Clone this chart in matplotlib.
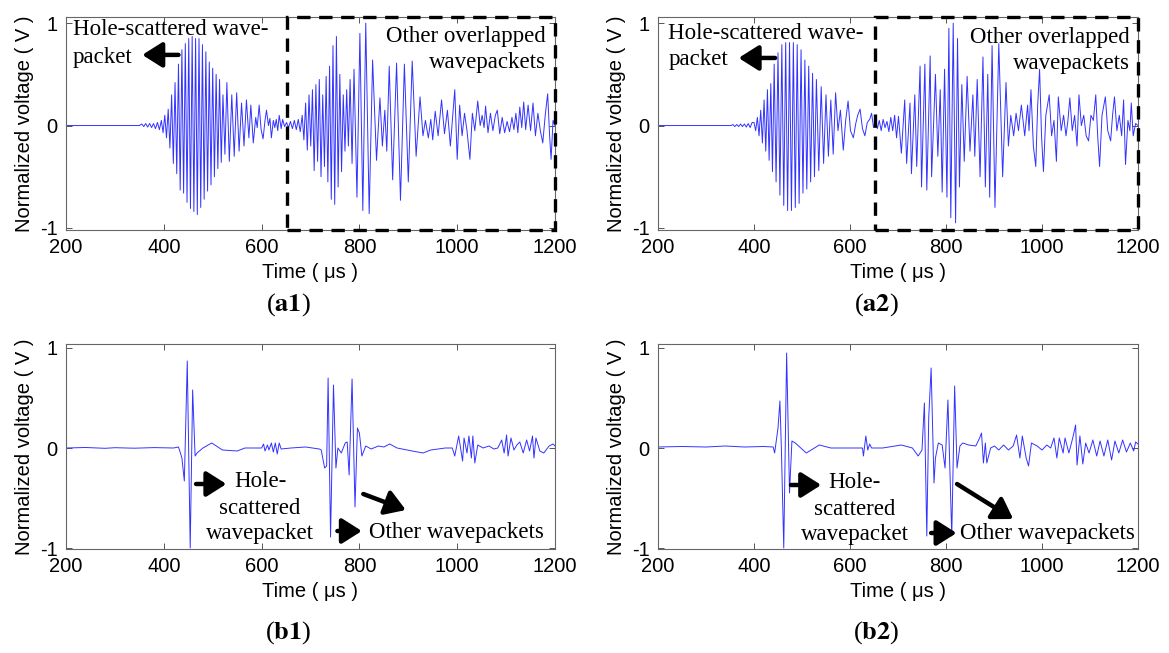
import matplotlib
matplotlib.use("Agg")
import matplotlib.pyplot as plt
from matplotlib.patches import Rectangle
import matplotlib.transforms as mtransforms

plt.rcParams['mathtext.fontset'] = 'stix'

# ---------------- data (extrema) ----------------
a1_t = [200, 350, 355, 359, 363, 367, 371, 375, 379, 383, 387, 391, 395,
        398.5, 402, 405.5, 409, 412.5, 416, 419.5, 423, 426.5, 430, 433.5, 437, 440.5, 444, 447.5,
        451, 454.5, 458, 461.5, 465, 468.5, 472, 475.5, 479, 482.5, 486, 489.5, 493, 496.5, 500,
        503.5, 507, 510.5, 514, 517.5, 521, 525, 529, 534, 539, 544, 549, 554, 559, 564, 569, 574,
        578, 583, 588, 591, 595, 599, 603, 607, 610, 614, 617, 620, 624, 627, 630, 633, 636, 640,
        643, 647, 651, 655, 659, 663, 667, 671, 675, 679, 683, 686.5, 690, 693.5, 697, 700.5, 704,
        707.5, 711, 714.5, 718, 721.5, 725, 728.5, 732, 735.5, 739, 742.5, 746, 749.5, 753, 756.5,
        760, 763.5, 767, 770.5, 774, 777.5, 781, 785, 789, 795, 801, 807, 813, 820, 827, 835, 842,
        847, 852, 856, 861, 868, 876, 884, 892, 900, 908, 916, 924, 930, 935, 941, 946, 950, 955,
        961, 968, 974, 980, 986, 991, 995, 1000, 1005, 1010, 1015, 1020, 1026, 1031, 1036, 1042,
        1047, 1051, 1055, 1058, 1063, 1068, 1073, 1078, 1082, 1087, 1092, 1097, 1102, 1107, 1112,
        1116, 1120, 1124, 1128, 1132, 1136, 1140, 1145, 1150, 1155, 1160, 1165, 1170, 1175, 1180,
        1185, 1189, 1192, 1196, 1200]
a1_v = [0, 0, 0.015, -0.01, 0.02, -0.015, 0.02, -0.02, 0.02, -0.03, 0.03, -0.04, 0.05,
        -0.07, 0.1, -0.12, 0.16, -0.22, 0.3, -0.37, 0.42, -0.47, 0.6, -0.63, 0.74, -0.66, 0.8, -0.75,
        0.85, -0.81, 0.87, -0.84, 0.85, -0.87, 0.85, -0.8, 0.79, -0.72, 0.72, -0.64, 0.62, -0.58, 0.56,
        -0.5, 0.5, -0.42, 0.45, -0.36, 0.3, -0.28, 0.42, -0.35, 0.3, -0.3, 0.32, -0.25, 0.22, -0.2, 0.25, -0.12,
        0.2, -0.17, 0.08, -0.02, 0.2, -0.04, -0.13, 0.05, 0.15, 0.0, 0.07, -0.12, 0.05, -0.02, 0.06, -0.05, 0.1, -0.03,
        0.06, -0.01, 0.03, -0.02, 0.04, -0.03, 0.05, -0.04, 0.06, -0.06, 0.1, -0.14, 0.22, -0.24, 0.3, -0.2, 0.35,
        -0.44, 0.4, -0.35, 0.45, -0.5, 0.3, -0.4, 0.48, -0.55, 0.58, -0.72, 0.78, -0.77, 0.87, -0.6,
        0.5, -0.45, 0.3, -0.25, 0.35, -0.2, 0.45, -0.37, 0.55, -0.7, 0.9, -0.83, 1.0, -0.86, 0.64, -0.34, 0.27,
        -0.2, 0.15, -0.25, 0.58, -0.53, 0.61, -0.73, 0.6, -0.55, 0.63, -0.3, 0.28, -0.1, 0.05, -0.12, 0.06, -0.14, 0.14,
        -0.1, 0.25, -0.08, 0.15, -0.2, 0.1, 0.35, -0.33, 0.2, -0.1, 0.12, -0.05, -0.33, 0.12, -0.05, 0.24,
        0.0, 0.1, -0.02, 0.19, -0.07, 0.12, -0.05, 0.1, 0.15, -0.08, 0.08, -0.07, 0.04, -0.06, 0.08,
        -0.04, 0.12, -0.07, 0.18, -0.02, 0.23, -0.04, 0.2, -0.05, 0.22, -0.1, 0.12, -0.05, -0.17, 0.1,
        0.31, -0.1, -0.33, 0.05, 0.0]

a2_t = [200, 352, 356, 360, 364, 368, 372, 376, 380, 384, 388, 392, 396,
        400, 403.5, 407, 410.5, 414, 417.5, 421, 424.5, 428, 431.5, 435, 438.5, 442, 446, 450, 454,
        458, 462, 466, 470, 474, 478, 482, 486, 490, 494, 498, 502, 506, 510, 514, 518, 522, 526, 530,
        535, 540, 545, 550, 555, 560, 565, 570, 575, 580, 586, 591, 596, 601, 607, 612, 616, 621, 626,
        631, 636, 641, 645, 649, 653, 657, 661, 665, 669, 673, 677, 681, 685, 689, 693, 697, 701, 707,
        714, 718, 725, 728, 735, 739, 746, 749, 756, 760, 767, 770, 778, 783, 788, 792, 797, 802, 806,
        810, 815, 820, 824, 828, 833, 838, 844, 850, 856, 860, 865, 871, 877, 882, 887, 891, 896, 902,
        910, 918, 925, 930, 935, 941, 946, 951, 957, 964, 970, 973, 977, 982, 987, 991, 995, 999, 1003,
        1008, 1015, 1020, 1025, 1030, 1034, 1040, 1045, 1050, 1054, 1058, 1063, 1068, 1073, 1077, 1082,
        1087, 1092, 1097, 1102, 1107, 1112, 1116, 1120, 1125, 1132, 1137, 1143, 1147, 1151, 1156, 1161,
        1166, 1170, 1174, 1179, 1183, 1186, 1190, 1195, 1200]
a2_v = [0, 0, 0.01, -0.01, 0.01, -0.01, 0.015, -0.01, 0.015, -0.015, 0.02, -0.02, 0.03,
        0.03, -0.05, 0.08, -0.1, 0.15, -0.17, 0.25, -0.25, 0.35, -0.34, 0.41, -0.45, 0.6, -0.55, 0.71, -0.68,
        0.79, -0.78, 0.81, -0.83, 0.81, -0.83, 0.81, -0.8, 0.79, -0.76, 0.74, -0.66, 0.64, -0.62, 0.58, -0.55, 0.51, -0.5, 0.45,
        -0.44, 0.38, -0.37, 0.3, -0.3, 0.25, -0.28, 0.32, -0.05, 0.15, -0.24, 0.05, 0.24, -0.05, -0.12, 0.02, 0.1, 0.16, -0.03,
        -0.1, 0.03, 0.06, 0.12, -0.02, 0.05, -0.03, 0.05, -0.05, 0.06, -0.02, 0.04, -0.06, 0.08, -0.05, 0.1, -0.12, 0.09, -0.27,
        0.25, -0.37, 0.22, -0.47, 0.3, -0.4, 0.58, -0.6, 0.6, -0.63, 0.68, -0.5, 0.5, -0.3, 0.35, -0.65, 0.55, -0.7, 0.95,
        -0.9, 1.0, -0.95, 0.85, -0.6, 0.4, -0.35, 0.48, -0.25, 0.3, -0.3, 0.45, -0.5, 0.67, -0.6, 0.5, -0.7, 0.78, -0.8,
        0.8, -0.5, 0.42, -0.2, 0.1, -0.1, 0.12, -0.05, 0.2, -0.1, 0.2, -0.05, 0.35, -0.2, -0.4, 0.2, 0.55, -0.1, -0.45,
        0.1, 0.3, -0.1, 0.05, -0.35, 0.28, -0.05, 0.1, -0.1, 0.05, 0.27, -0.05, 0.1, -0.2, 0.3, 0.0,
        0.1, -0.1, -0.15, 0.1, 0.05, 0.3, -0.1, -0.4, 0.1, 0.28, -0.05, -0.15, 0.1, 0.28, -0.05, 0.1,
        -0.1, 0.25, -0.38, 0.05, -0.05, 0.22, -0.1, 0.02, 0.0]

b1_t = [200, 240, 280, 300, 340, 380, 420, 430, 434, 437, 442, 448, 454, 459, 464, 468, 480, 498, 520,
        550, 566, 600, 604, 607, 612, 615, 620, 624, 628, 632, 636, 640, 660, 690, 718, 722, 725, 729,
        733, 736, 741, 747, 752, 756, 763, 771, 775, 779, 785, 791, 796, 800, 805, 813, 824, 839, 850,
        862, 877, 908, 930, 946, 976, 990, 995, 1003, 1011, 1014, 1020, 1024, 1029, 1032, 1036, 1042,
        1053, 1065, 1075, 1083, 1091, 1096, 1101, 1104, 1110, 1116, 1122, 1128, 1135, 1142, 1148, 1154,
        1157, 1161, 1169, 1177, 1188, 1196, 1200]
b1_v = [0.0, 0.005, -0.003, 0.003, -0.002, 0.004, 0.0, 0.01, -0.05, -0.1, -0.33, 0.87, -1.0, 0.58, -0.08,
        -0.05, 0.0, 0.05, -0.02, -0.03, 0.0, 0.0, 0.04, -0.03, 0.03, -0.02, 0.05, -0.04, 0.05, -0.06, 0.05,
        -0.01, 0.0, 0.01, -0.01, -0.02, -0.1, -0.2, -0.18, 0.7, -0.89, 0.63, -0.2, 0.0, -0.05, 0.05, 0.06,
        -0.27, 0.69, -0.59, 0.2, 0.15, -0.08, 0.02, -0.01, 0.02, 0.01, 0.04, 0.0, -0.03, -0.05, -0.02, 0.0,
        0.0, -0.08, 0.12, -0.13, 0.1, -0.05, 0.12, -0.1, 0.12, -0.15, 0.03, 0.0, 0.02, -0.01, 0.0, 0.08,
        -0.05, 0.13, -0.08, 0.1, -0.02, 0.03, 0.06, -0.05, 0.08, -0.03, 0.12, -0.1, 0.1, -0.03, -0.05, 0.02,
        0.04, 0.02]

b2_t = [200, 250, 300, 340, 380, 420, 440, 443, 450, 454, 457, 462, 468, 474, 479, 486, 509, 536, 560,
        591, 626, 628, 633, 637, 641, 645, 668, 707, 730, 742, 750, 755, 760, 764, 769, 775, 778, 784,
        792, 798, 804, 808, 812, 818, 823, 829, 835, 847, 862, 870, 874, 878, 882, 885, 893, 901, 910,
        920, 930, 940, 947, 954, 959, 967, 972, 978, 990, 1000, 1010, 1018, 1025, 1031, 1036, 1044, 1048,
        1056, 1064, 1070, 1073, 1079, 1085, 1091, 1098, 1106, 1114, 1121, 1129, 1137, 1145, 1152, 1160,
        1168, 1176, 1184, 1191, 1195, 1200]
b2_v = [0.01, 0.015, 0.01, 0.02, 0.01, 0.015, 0.01, -0.05, 0.2, 0.47, 0.0, -1.0, 0.95, -0.45, 0.07, 0.05,
        -0.05, 0.03, 0.0, 0.0, 0.0, -0.08, 0.12, -0.02, 0.04, 0.0, 0.0, 0.03, 0.0, -0.08, -0.02, 0.45, -0.88,
        0.3, 0.8, -0.35, -0.1, 0.05, 0.03, -0.2, 0.48, -0.2, -0.88, 0.62, -0.2, 0.02, 0.05, 0.03, 0.02, 0.1,
        0.15, -0.15, 0.05, -0.15, 0.0, 0.02, -0.02, 0.03, -0.02, 0.02, 0.13, -0.1, 0.12, -0.1, -0.18, 0.05,
        0.02, -0.02, 0.03, 0.0, 0.1, -0.1, 0.1, -0.05, 0.1, -0.05, 0.1, 0.23, -0.17, 0.12, -0.16, 0.05,
        -0.05, 0.08, -0.08, 0.07, -0.08, 0.08, -0.12, 0.07, -0.05, 0.08, -0.04, 0.05, -0.03, 0.06, 0.04]

x_ticks = [200, 400, 600, 800, 1000, 1200]
y_ticks = [-1, 0, 1]
captions = ['a1', 'a2', 'b1', 'b2']
xlabel = 'Time ( \u03bcs )'
ylabel = 'Normalized voltage ( V )'

# ---------------- figure ----------------
W, H = 1169, 653
fig = plt.figure(figsize=(W / 100, H / 100), dpi=100)

def rect(l, r, t, b):
    return [l / W, 1 - b / H, (r - l) / W, (b - t) / H]

pos = {
    'a1': rect(66, 555, 17, 230),
    'a2': rect(658, 1138, 17, 230),
    'b1': rect(66, 555, 344, 549),
    'b2': rect(658, 1138, 344, 549),
}
data = {'a1': (a1_t, a1_v), 'a2': (a2_t, a2_v), 'b1': (b1_t, b1_v), 'b2': (b2_t, b2_v)}

SANS = ['Liberation Sans', 'DejaVu Sans']
SERIF = ['Liberation Serif', 'DejaVu Serif']
fs_tick = 14.5
fs_ann = 16.5

axes = {}
for key in captions:
    ax = fig.add_axes(pos[key])
    t, v = data[key]
    ax.plot(t, v, color='#3333ff', lw=0.7)
    ax.set_xlim(200, 1200)
    if key.startswith('a'):
        ax.set_ylim(-1.02, 1.06)
    else:
        ax.set_ylim(-1.01, 1.04)
    ax.set_xticks(x_ticks)
    ax.set_yticks(y_ticks)
    ax.set_xticklabels([str(x) for x in x_ticks], fontsize=fs_tick, family=SANS)
    ax.set_yticklabels([str(y) for y in y_ticks], fontsize=fs_tick, family=SANS)
    ax.tick_params(direction='in', length=4, width=0.7, top=True, right=True,
                   color='#555555', pad=6)
    for s in ax.spines.values():
        s.set_color('#666666')
        s.set_linewidth(0.8)
    ax.set_xlabel(xlabel, fontsize=fs_tick, family=SANS, labelpad=4)
    ax.set_ylabel(ylabel, fontsize=fs_tick, family=SANS, labelpad=4)
    axes[key] = ax

# captions
cap_pos = {'a1': (288, 305), 'a2': (876, 305), 'b1': (288, 633), 'b2': (876, 633)}
for key, (cx, cy) in cap_pos.items():
    fig.text(cx / W, 1 - cy / H, r'($\mathbf{%s}$)' % key, ha='center', va='center',
             fontsize=19, family=SERIF)

arrow_kw = dict(arrowstyle='-|>,head_length=0.6,head_width=0.38', lw=3.2, color='black',
                mutation_scale=20, shrinkA=0, shrinkB=0)

def arrow(ax, tail, head):
    ax.annotate('', xy=head, xytext=tail, xycoords='data', textcoords='data',
                arrowprops=arrow_kw, annotation_clip=False)

# dashed boxes in a panels
for key in ['a1', 'a2']:
    ax = axes[key]
    tr = mtransforms.blended_transform_factory(ax.transData, ax.transAxes)
    ax.add_patch(Rectangle((652, 0), 1199 - 652, 1, transform=tr, fill=False,
                           ls=(0, (4, 2.6)), lw=2.4, ec='black', clip_on=False, zorder=5))

# a1 annotations
ax = axes['a1']
ax.text(214, 0.88, 'Hole-scattered wave-', family=SERIF, fontsize=fs_ann, va='baseline', ha='left')
ax.text(214, 0.61, 'packet', family=SERIF, fontsize=fs_ann, va='baseline', ha='left')
arrow(ax, (430, 0.69), (356, 0.69))
ax.text(1182, 0.82, 'Other overlapped', family=SERIF, fontsize=fs_ann, va='baseline', ha='right')
ax.text(1182, 0.56, 'wavepackets', family=SERIF, fontsize=fs_ann, va='baseline', ha='right')

# a2 annotations
ax = axes['a2']
ax.text(221, 0.85, 'Hole-scattered wave-', family=SERIF, fontsize=fs_ann, va='baseline', ha='left')
ax.text(221, 0.59, 'packet', family=SERIF, fontsize=fs_ann, va='baseline', ha='left')
arrow(ax, (444, 0.66), (368, 0.66))
ax.text(1183, 0.81, 'Other overlapped', family=SERIF, fontsize=fs_ann, va='baseline', ha='right')
ax.text(1183, 0.55, 'wavepackets', family=SERIF, fontsize=fs_ann, va='baseline', ha='right')

# b1 annotations
ax = axes['b1']
for txt, yv in [('Hole-', -0.39), ('scattered', -0.66), ('wavepacket', -0.91)]:
    ax.text(597, yv, txt, family=SERIF, fontsize=fs_ann, va='baseline', ha='center')
arrow(ax, (466, -0.36), (528, -0.36))
arrow(ax, (755, -0.83), (805, -0.83))
ax.text(820, -0.9, 'Other wavepackets', family=SERIF, fontsize=fs_ann, va='baseline', ha='left')
arrow(ax, (808, -0.46), (895, -0.62))

# b2 annotations
ax = axes['b2']
for txt, yv in [('Hole-', -0.40), ('scattered', -0.67), ('wavepacket', -0.92)]:
    ax.text(610, yv, txt, family=SERIF, fontsize=fs_ann, va='baseline', ha='center')
arrow(ax, (477, -0.37), (540, -0.37))
arrow(ax, (769, -0.85), (822, -0.85))
ax.text(829, -0.91, 'Other wavepackets', family=SERIF, fontsize=fs_ann, va='baseline', ha='left')
arrow(ax, (823, -0.36), (940, -0.71))

fig.savefig('out.png', dpi=100)
